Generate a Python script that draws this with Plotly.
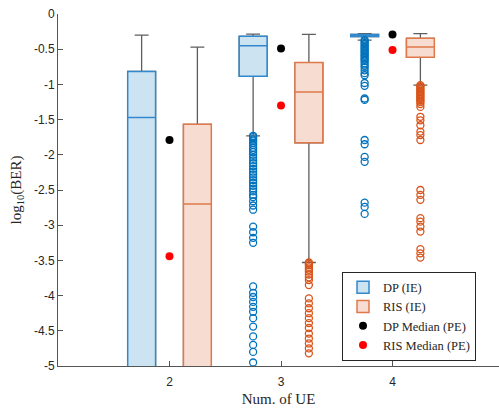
import plotly.graph_objects as go

# Number of UE (x categories) and the side offset of each box group
ue = [2, 3, 4]
offset = 0.25

# log10(BER) box statistics, imperfect estimation (IE)
dp_q1 = [-5.3, -0.885, -0.32]
dp_med = [-1.47, -0.45, -0.31]
dp_q3 = [-0.815, -0.317, -0.29]
dp_lo = [-5.6, -1.73, -0.37]
dp_hi = [-0.30, -0.285, -0.28]

ris_q1 = [-5.3, -1.83, -0.615]
ris_med = [-2.70, -1.108, -0.47]
ris_q3 = [-1.567, -0.69, -0.345]
ris_lo = [-5.6, -3.53, -1.01]
ris_hi = [-0.47, -0.29, -0.28]

# medians with perfect estimation (PE)
dp_pe_median = [-1.79, -0.49, -0.29]
ris_pe_median = [-3.44, -1.30, -0.51]

# outliers per UE count
dp_out_3 = [-1.73, -1.75, -1.78, -1.80, -1.83, -1.86, -1.90, -1.93, -1.96, -2.00,
            -2.04, -2.08, -2.12, -2.16, -2.20, -2.24, -2.28, -2.32, -2.36, -2.40,
            -2.44, -2.48, -2.52, -2.57, -2.60, -2.66, -2.72, -2.78, -3.02, -3.10,
            -3.18, -3.25, -3.87, -3.96, -4.02, -4.09, -4.16, -4.23, -4.32, -4.44,
            -4.58, -4.70, -4.80, -4.95]
dp_out_4 = [-0.37, -0.39, -0.41, -0.43, -0.45, -0.47, -0.49, -0.51, -0.53, -0.55,
            -0.57, -0.59, -0.61, -0.63, -0.65, -0.67, -0.70, -0.73, -0.76, -0.80,
            -0.84, -0.87, -0.98, -1.02, -1.20, -1.22, -1.79, -1.85, -2.03, -2.10,
            -2.68, -2.74, -2.84]
ris_out_3 = [-3.53, -3.55, -3.57, -3.60, -3.63, -3.66, -3.70, -3.74, -3.78, -3.85,
             -4.04, -4.11, -4.18, -4.25, -4.32, -4.39, -4.46, -4.54, -4.61, -4.68,
             -4.75, -4.82]
ris_out_4 = [-1.01, -1.03, -1.05, -1.07, -1.09, -1.11, -1.13, -1.15, -1.17, -1.19,
             -1.21, -1.23, -1.25, -1.28, -1.32, -1.46, -1.51, -1.58, -1.67, -1.72,
             -1.79, -2.50, -2.57, -2.64, -2.90, -2.95, -3.02, -3.09, -3.34, -3.40,
             -3.46]

y_ticks = [0, -0.5, -1, -1.5, -2, -2.5, -3, -3.5, -4, -4.5, -5]
y_tick_labels = ["0", "-0.5", "-1", "-1.5", "-2", "-2.5", "-3", "-3.5", "-4", "-4.5", "-5"]
x_tick_labels = ["2", "3", "4"]

DP_C = "#0072BD"
RIS_C = "#D95319"
DP_EDGE = "#3288cc"
RIS_EDGE = "#e0794a"
DP_FILL = "#cce3f2"
RIS_FILL = "#f7ddd1"
WHISK = "#5e5e5e"
SERIF = "Liberation Serif, Times New Roman, serif"
SANS = "Liberation Sans, Arial, sans-serif"

dp_x = [u - offset for u in ue]
ris_x = [u + offset for u in ue]

fig = go.Figure()

# whiskers (gray) drawn underneath the coloured boxes
for xs, q1, md, q3, lo, hi in [(dp_x, dp_q1, dp_med, dp_q3, dp_lo, dp_hi),
                               (ris_x, ris_q1, ris_med, ris_q3, ris_lo, ris_hi)]:
    fig.add_trace(go.Box(x=xs, q1=q1, median=md, q3=q3, lowerfence=lo, upperfence=hi,
                         width=0.25, whiskerwidth=0.5, fillcolor="rgba(0,0,0,0)",
                         line=dict(color=WHISK, width=1.3), showlegend=False,
                         hoverinfo="skip"))

# coloured boxes
fig.add_trace(go.Box(x=dp_x, q1=dp_q1, median=dp_med, q3=dp_q3,
                     lowerfence=dp_q1, upperfence=dp_q3, width=0.25, whiskerwidth=0,
                     fillcolor=DP_FILL, line=dict(color=DP_EDGE, width=1.5),
                     name="DP (IE)", legendrank=1))
fig.add_trace(go.Box(x=ris_x, q1=ris_q1, median=ris_med, q3=ris_q3,
                     lowerfence=ris_q1, upperfence=ris_q3, width=0.25, whiskerwidth=0,
                     fillcolor=RIS_FILL, line=dict(color=RIS_EDGE, width=1.5),
                     name="RIS (IE)", legendrank=2))

# outliers
dp_ox = [3 - offset] * len(dp_out_3) + [4 - offset] * len(dp_out_4)
ris_ox = [3 + offset] * len(ris_out_3) + [4 + offset] * len(ris_out_4)
fig.add_trace(go.Scatter(x=dp_ox, y=dp_out_3 + dp_out_4, mode="markers", showlegend=False,
                         marker=dict(symbol="circle-open", size=7, color=DP_C,
                                     line=dict(width=1.3, color=DP_C)), cliponaxis=False))
fig.add_trace(go.Scatter(x=ris_ox, y=ris_out_3 + ris_out_4, mode="markers", showlegend=False,
                         marker=dict(symbol="circle-open", size=7, color=RIS_C,
                                     line=dict(width=1.3, color=RIS_C)), cliponaxis=False))

# PE medians
fig.add_trace(go.Scatter(x=ue, y=dp_pe_median, mode="markers", name="DP Median (PE)",
                         marker=dict(size=8, color="black"), legendrank=3))
fig.add_trace(go.Scatter(x=ue, y=ris_pe_median, mode="markers", name="RIS Median (PE)",
                         marker=dict(size=8, color="red"), legendrank=4))

fig.update_layout(
    width=499, height=408,
    margin=dict(l=58, r=0, t=14, b=42),
    paper_bgcolor="white", plot_bgcolor="white",
    boxmode="overlay",
    font=dict(family=SANS, size=12, color="#262626"),
    xaxis=dict(range=[1, 4.955], tickvals=ue, ticktext=x_tick_labels,
               ticks="inside", ticklen=5, tickcolor="#555", showline=True,
               linecolor="#555", linewidth=1, showgrid=False, zeroline=False,
               ticklabelstandoff=5,
               tickfont=dict(family=SANS, size=12, color="#262626"),
               title=dict(text="Num. of UE", font=dict(family=SERIF, size=15, color="#262626"),
                          standoff=5)),
    yaxis=dict(range=[-5, 0], tickvals=y_ticks, ticktext=y_tick_labels,
               ticks="inside", ticklen=5, tickcolor="#555", showline=True,
               linecolor="#555", linewidth=1, showgrid=False, zeroline=False,
               tickfont=dict(family=SANS, size=12, color="#262626"),
               title=dict(text="log<sub>10</sub>(BER)",
                          font=dict(family=SERIF, size=15, color="#262626"), standoff=8)),
    legend=dict(x=0.644, y=0.268, xanchor="left", yanchor="top",
                bgcolor="white", bordercolor="#262626", borderwidth=1,
                font=dict(family=SERIF, size=12.5, color="#262626"),
                tracegroupgap=0, itemwidth=30),
)

fig.write_html("out.html")
